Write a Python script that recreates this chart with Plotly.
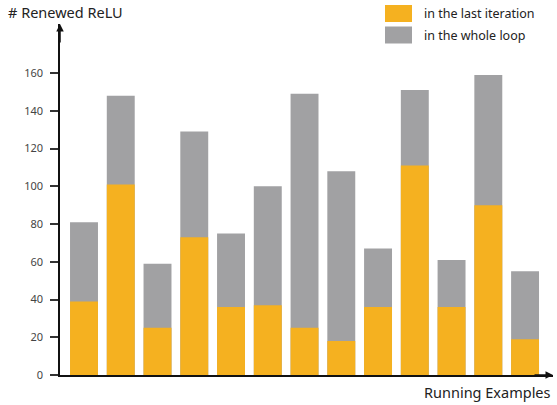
import plotly.graph_objects as go

examples = list(range(13))
whole_loop = [81, 148, 59, 129, 75, 100, 149, 108, 67, 151, 61, 159, 55]
last_iter = [39, 101, 25, 73, 36, 37, 25, 18, 36, 111, 36, 90, 19]
y_ticks = [0, 20, 40, 60, 80, 100, 120, 140, 160]
series_names = ["in the last iteration", "in the whole loop"]
ORANGE = "#F5B120"
GRAY = "#A1A1A3"
FONT = "Noto Sans"

fig = go.Figure()
fig.add_trace(go.Bar(x=examples, y=whole_loop, name=series_names[1],
                     marker=dict(color=GRAY, line=dict(width=0)), width=0.76,
                     showlegend=False))
fig.add_trace(go.Bar(x=examples, y=last_iter, name=series_names[0],
                     marker=dict(color=ORANGE, line=dict(width=0)), width=0.76,
                     showlegend=False))

fig.update_layout(
    width=557, height=405,
    margin=dict(l=60, r=4, t=24, b=30),
    barmode="overlay",
    plot_bgcolor="white", paper_bgcolor="white",
    font=dict(family=FONT, color="#333333"),
    xaxis=dict(range=[-0.653, 12.76], showticklabels=False, ticks="",
               showgrid=False, zeroline=False, showline=True,
               linecolor="#111111", linewidth=1.5, fixedrange=True),
    yaxis=dict(range=[0, 186], tickvals=y_ticks, ticks="outside", ticklen=8,
               tickcolor="#333333", tickwidth=1.5, showgrid=False, zeroline=False,
               showline=True, linecolor="#111111", linewidth=1.5,
               tickfont=dict(size=11, color="#444444"), ticklabelstandoff=5),
)

# Arrowheads on axes
fig.add_annotation(xref="paper", yref="paper", x=0, y=1.0, ax=0, ay=20,
                   showarrow=True, arrowhead=2,
                   arrowsize=1, arrowwidth=1.5, arrowcolor="#111111", text="")
fig.add_annotation(xref="paper", yref="paper", x=1.0, y=0, ax=-20, ay=0,
                   showarrow=True, arrowhead=2, arrowsize=1, arrowwidth=1.5,
                   arrowcolor="#111111", text="")

# Axis titles
fig.add_annotation(xref="paper", yref="paper", x=-54/493, y=1 + 12/351,
                   xanchor="left", yanchor="middle", showarrow=False,
                   text="# Renewed ReLU", font=dict(size=14.5, color="#222222"))
fig.add_annotation(xref="paper", yref="paper", x=1.0, y=-17/351,
                   xanchor="right", yanchor="middle", showarrow=False,
                   text="Running Examples", font=dict(size=14.5, color="#222222"))

# Legend (swatches + labels)
legend_items = [(series_names[0], ORANGE, 13.5), (series_names[1], GRAY, 35)]
for label, color, yc in legend_items:
    fig.add_shape(type="rect", xref="paper", yref="paper",
                  x0=(385 - 60) / 493, x1=(412 - 60) / 493,
                  y0=(375 - (yc + 8.5)) / 351, y1=(375 - (yc - 8.5)) / 351,
                  fillcolor=color, line=dict(width=0))
    fig.add_annotation(xref="paper", yref="paper", x=(422 - 60) / 493,
                       y=(375 - yc) / 351, xanchor="left", yanchor="middle",
                       showarrow=False, text=label,
                       font=dict(size=12.5, color="#222222"))

fig.write_html("out.html", config={"displayModeBar": False},
               post_script="document.body.style.margin='0';document.body.style.overflow='hidden';")
